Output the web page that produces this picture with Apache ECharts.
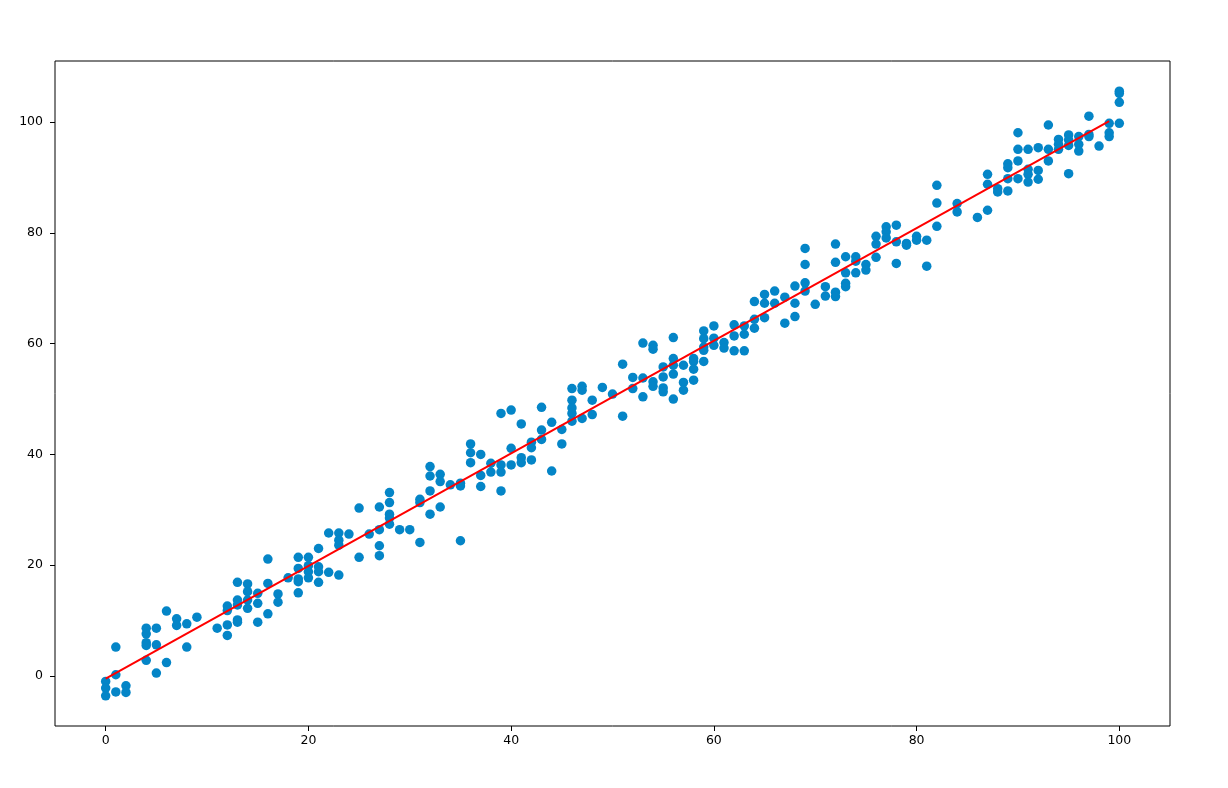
<!DOCTYPE html>
<html>
<head>
<meta charset="utf-8">
<script src="https://cdn.jsdelivr.net/npm/echarts@6/dist/echarts.min.js"></script>
<style>
html,body{margin:0;padding:0;background:#fff;}
#chart{width:1228px;height:788px;}
</style>
</head>
<body>
<div id="chart"></div>
<script>
// x values and observed y values (grouped by x)
const xGroups = [0,1,2,4,5,6,7,8,9,11,12,13,14,15,16,17,18,19,20,21,22,23,24,25,26,27,28,29,30,31,32,33,34,35,36,37,38,39,40,41,42,43,44,45,46,47,48,49,50,51,52,53,54,55,56,57,58,59,60,61,62,63,64,65,66,67,68,69,70,71,72,73,74,75,76,77,78,79,80,81,82,84,86,87,88,89,90,91,92,93,94,95,96,97,98,99,100];
const yGroups = [
  [-1.0,-2.2,-3.6],
  [5.2,0.2,-2.9],
  [-1.8,-3.0],
  [8.6,7.6,6.0,5.5,2.8],
  [8.6,5.6,0.5],
  [11.7,2.4],
  [10.3,9.1],
  [9.4,5.2],
  [10.6],
  [8.6],
  [12.6,11.8,9.2,7.3],
  [16.9,13.7,12.8,10.1,9.7],
  [16.6,15.2,13.7,12.2],
  [14.9,13.1,9.7],
  [21.1,16.7,11.2],
  [14.8,13.3],
  [17.7],
  [21.4,19.4,17.5,17.0,15.0],
  [21.4,19.9,18.8,17.7],
  [23.0,19.7,18.8,16.9],
  [25.8,18.7],
  [25.8,24.5,23.6,18.2],
  [25.6],
  [30.3,21.4],
  [25.6],
  [30.5,26.4,23.5,21.7],
  [33.1,31.3,29.2,28.5,27.4],
  [26.4],
  [26.4],
  [31.9,31.3,24.1],
  [37.8,36.1,33.4,29.2],
  [36.4,35.1,30.5],
  [34.5],
  [34.8,34.3,24.4],
  [41.9,40.3,38.5],
  [40.0,36.2,34.2],
  [38.4,36.8],
  [47.4,38.1,36.8,33.4],
  [48.0,41.1,38.1],
  [45.5,39.4,38.5],
  [42.2,41.2,39.0],
  [48.5,44.4,42.7],
  [45.8,37.0],
  [44.5,41.9],
  [51.9,49.8,48.4,47.4,46.0],
  [52.3,51.6,46.5],
  [49.8,47.2],
  [52.1],
  [50.9],
  [56.3,46.9],
  [53.9,51.9],
  [60.1,53.8,50.4],
  [59.7,59.0,53.1,52.3],
  [55.8,54.0,52.0,51.3],
  [61.1,57.3,56.1,54.5,50.0],
  [56.1,53.0,51.6],
  [57.3,56.8,55.4,53.4],
  [62.3,60.9,59.4,58.8,56.8],
  [63.2,61.0,59.7],
  [60.2,59.2],
  [63.4,61.4,58.7],
  [63.2,61.7,58.7],
  [67.6,64.4,62.8],
  [68.9,67.3,64.7],
  [69.5,67.3],
  [68.4,63.7],
  [70.4,67.3,64.9],
  [77.2,74.3,71.0,69.5],
  [67.1],
  [70.3,68.6],
  [78.0,74.7,69.3,68.5],
  [75.7,72.8,70.9,70.3],
  [75.7,74.9,72.8],
  [74.3,73.3],
  [79.4,78.0,75.6],
  [81.1,80.2,79.1],
  [81.4,78.4,74.5],
  [78.1,77.8],
  [79.4,78.7],
  [78.7,74.0],
  [88.6,85.4,81.2],
  [85.3,83.8],
  [82.8],
  [90.6,88.8,84.1],
  [88.0,87.4],
  [92.5,91.8,89.8,87.6],
  [98.1,95.1,93.0,89.8],
  [95.1,91.5,90.6,89.2],
  [95.4,91.3,89.7],
  [99.5,95.1,93.0],
  [96.9,96.0,95.1],
  [97.7,96.8,95.8,90.7],
  [97.4,96.0,94.8],
  [101.1,97.8,97.4],
  [95.7],
  [99.8,98.1,97.4],
  [105.6,105.2,103.6,99.8]
];
// fitted line endpoints
const lineX = [0, 99];
const lineY = [-0.5, 100.2];
const tickValues = [0, 20, 40, 60, 80, 100];

const scatterData = [];
xGroups.forEach((x, i) => yGroups[i].forEach(y => scatterData.push([x, y])));
const lineData = lineX.map((x, i) => [x, lineY[i]]);

const chart = echarts.init(document.getElementById('chart'), null, {renderer: 'canvas'});
const labelStyle = {color: '#000', fontFamily: 'DejaVu Sans', fontSize: 12.5};
chart.setOption({
  animation: false,
  backgroundColor: '#fff',
  grid: {left: 55, right: 58, top: 61, bottom: 62, show: true, borderColor: '#000', borderWidth: 1, backgroundColor: 'transparent'},
  xAxis: {
    type: 'value', min: -5, max: 105,
    axisLine: {show: false, onZero: false},
    splitLine: {show: false},
    axisTick: {show: true, inside: false, length: 5, lineStyle: {color: '#000'}, customValues: tickValues},
    axisLabel: Object.assign({margin: 8, customValues: tickValues}, labelStyle)
  },
  yAxis: {
    type: 'value', min: -9.06, max: 111.06,
    axisLine: {show: false, onZero: false},
    splitLine: {show: false},
    axisTick: {show: true, inside: false, length: 5, lineStyle: {color: '#000'}, customValues: tickValues},
    axisLabel: Object.assign({margin: 12, customValues: tickValues}, labelStyle)
  },
  series: [
    {
      type: 'scatter', data: scatterData, symbol: 'circle', symbolSize: 9.5,
      itemStyle: {color: '#0485c7', opacity: 1}, z: 2
    },
    {
      type: 'line', data: lineData, showSymbol: false, symbol: 'none',
      lineStyle: {color: '#ff0000', width: 2}, z: 3
    }
  ]
});
</script>
</body>
</html>
